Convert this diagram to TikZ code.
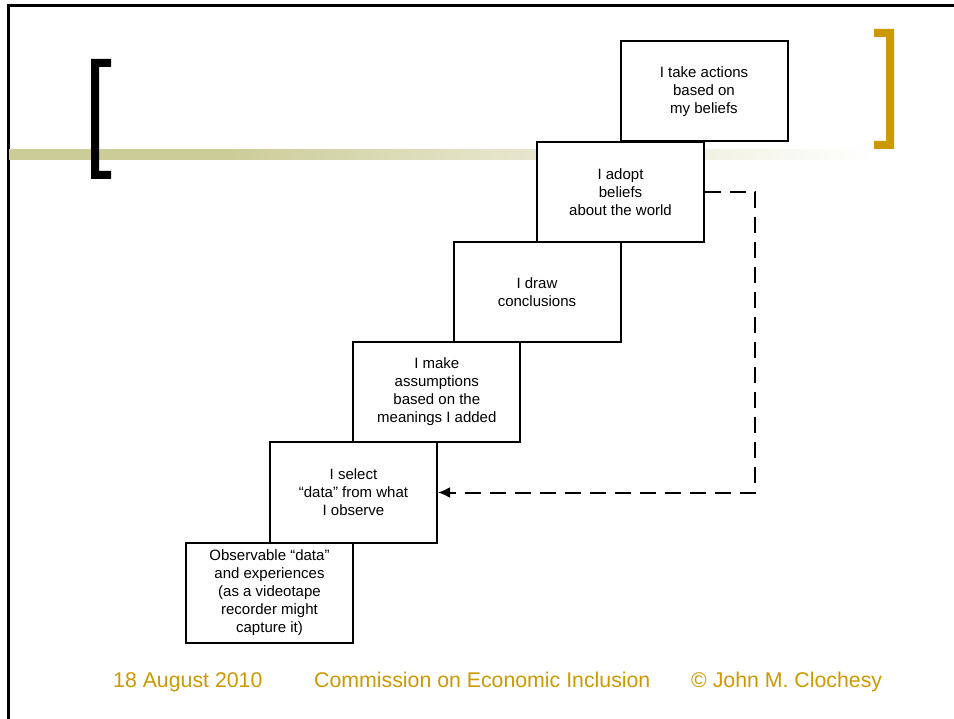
\documentclass[tikz,border=0pt]{standalone}
\usepackage{fontspec}
\setmainfont{Liberation Sans}
\usetikzlibrary{arrows.meta}
\definecolor{barc}{RGB}{204,204,153}
\definecolor{gold}{RGB}{204,153,0}
\tikzset{
  stepbox/.style={draw,line width=2pt,fill=white,minimum width=167pt,minimum height=100pt,
    inner sep=0pt,align=center,font=\fontsize{15}{18}\selectfont},
  footer/.style={text=gold,font=\fontsize{21.3}{25}\selectfont,anchor=base west,inner sep=0pt},
  loopline/.style={line width=2pt,dash pattern=on 16pt off 9pt,-{Latex[length=12pt,width=11pt]}}
}
\begin{document}
\begin{tikzpicture}[x=1pt,y=-1pt]
\useasboundingbox (0,0) rectangle (954,719);
\fill[white] (0,0) rectangle (954,719);
% slide border
\draw[line width=2.5pt] (8.5,719) -- (8.5,5.5) -- (954,5.5);
% gradient bar (slices)
\fill[barc] (9,149) rectangle (230.5,160);
\foreach \x in {230,235,...,475} {
  \pgfmathsetmacro{\p}{100-45*(\x-230)/250}
  \fill[barc!\p!white] (\x,149) rectangle (\x+5.4,160);
}
\foreach \x in {480,485,...,705} {
  \pgfmathsetmacro{\p}{55-29*(\x-480)/230}
  \fill[barc!\p!white] (\x,149) rectangle (\x+5.4,160);
}
\foreach \x in {710,715,...,865} {
  \pgfmathsetmacro{\p}{26-26*(\x-710)/160}
  \fill[barc!\p!white] (\x,149) rectangle (\x+5.4,160);
}
% left bracket
\fill[black] (91,59) -- (111,59) -- (111,67) -- (99,67) -- (99,171) -- (111,171) -- (111,179) -- (91,179) -- cycle;
% right bracket
\fill[gold] (894,29) -- (874,29) -- (874,37) -- (886,37) -- (886,141) -- (874,141) -- (874,149) -- (894,149) -- cycle;
% steps
\node[stepbox] (b6) at (704,91.5) {I take actions\\based on\\my beliefs};
\node[stepbox] (b5) at (620.5,192) {I adopt\\beliefs\\about the world};
\node[stepbox] (b4) at (537,292) {I draw\\conclusions};
\node[stepbox] (b3) at (436.8,391.8) {I make\\assumptions\\based on the\\meanings I added};
\node[stepbox] (b2) at (353.5,492.5) {I select\\“data” from what\\I observe};
\node[stepbox] (b1) at (269.5,592.5) {Observable “data”\\and experiences\\(as a videotape\\recorder might\\capture it)};
% reflexive loop
\draw[loopline] (b5.east) -- ++(50,0) |- (b2.east);
% footer
\node[footer] (date) at (113,687) {18 August 2010};
\node[footer] (org) at (314,687) {Commission on Economic Inclusion};
\node[footer] (copy) at (691,687) {© John M. Clochesy};
\end{tikzpicture}
\end{document}
